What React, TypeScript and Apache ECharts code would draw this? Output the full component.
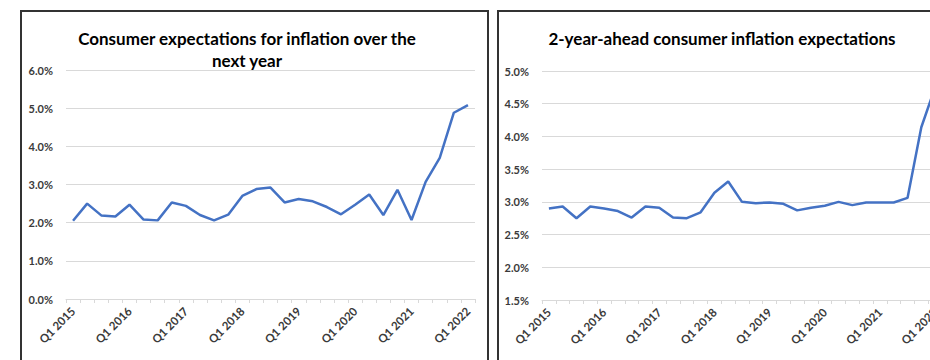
import React, { useEffect, useRef } from "react";
import * as echarts from "echarts";

const years = [2015, 2016, 2017, 2018, 2019, 2020, 2021];
const categories: string[] = [];
years.forEach((y) => ["Q1", "Q2", "Q3", "Q4"].forEach((q) => categories.push(`${q} ${y}`)));
categories.push("Q1 2022");

const oneYearAhead = [
  2.05, 2.5, 2.19, 2.16, 2.47, 2.08, 2.06, 2.53, 2.44, 2.2, 2.06, 2.21, 2.7, 2.88, 2.92,
  2.53, 2.62, 2.56, 2.41, 2.22, 2.47, 2.74, 2.2, 2.86, 2.07, 3.07, 3.7, 4.88, 5.08,
];

const twoYearAhead = [
  2.9, 2.93, 2.75, 2.93, 2.9, 2.86, 2.76, 2.93, 2.91, 2.76, 2.75, 2.84, 3.14, 3.31, 3.0,
  2.98, 2.99, 2.97, 2.87, 2.91, 2.94, 3.0, 2.95, 2.99, 2.99, 2.99, 3.06, 4.14, 4.75,
];

const leftTitle = "Consumer expectations for inflation over the\nnext year";
const rightTitle = "2-year-ahead consumer inflation expectations";

const FONT = "Lato";
const LABEL_COLOR = "#3a3a3a";
const LINE_COLOR = "#4472C4";
const GRID_COLOR = "#d9d9d9";

function xAxisFor(gridIndex: number) {
  return {
    type: "category" as const,
    gridIndex,
    data: categories,
    boundaryGap: true,
    axisLine: { show: true, lineStyle: { color: GRID_COLOR, width: 1 } },
    axisTick: { show: true, interval: 0, length: 4, lineStyle: { color: GRID_COLOR } },
    axisLabel: {
      interval: 3,
      rotate: 45,
      margin: 10,
      fontFamily: FONT,
      fontWeight: "bold" as const,
      fontSize: 11.5,
      color: LABEL_COLOR,
    },
    splitLine: { show: false },
  };
}

function yAxisFor(gridIndex: number, min: number, max: number, interval: number) {
  return {
    type: "value" as const,
    gridIndex,
    min,
    max,
    interval,
    axisLine: { show: false },
    axisTick: { show: false },
    axisLabel: {
      margin: 13,
      fontFamily: FONT,
      fontWeight: "bold" as const,
      fontSize: 11,
      color: LABEL_COLOR,
      formatter: (v: number) => v.toFixed(1) + "%",
    },
    splitLine: { show: true, lineStyle: { color: GRID_COLOR, width: 1 } },
  };
}

export default function App() {
  const ref = useRef<HTMLDivElement>(null);

  useEffect(() => {
    if (!ref.current) return;
    const chart = echarts.init(ref.current, undefined, { renderer: "svg" });
    chart.setOption({
      animation: false,
      backgroundColor: "#ffffff",
      title: [
        {
          text: leftTitle,
          left: 247,
          top: 27,
          padding: 0,
          textAlign: "center",
          textStyle: {
            fontFamily: FONT,
            fontWeight: "bold",
            fontSize: 17,
            color: "#000000",
            lineHeight: 22,
            align: "center",
          },
        },
        {
          text: rightTitle,
          left: 722,
          top: 27,
          padding: 0,
          textAlign: "center",
          textStyle: {
            fontFamily: FONT,
            fontWeight: "bold",
            fontSize: 17,
            color: "#000000",
            lineHeight: 22,
          },
        },
      ],
      grid: [
        { left: 66, top: 70, width: 409, height: 229, containLabel: false },
        { left: 542, top: 71, width: 400, height: 229, containLabel: false },
      ],
      xAxis: [xAxisFor(0), xAxisFor(1)],
      yAxis: [yAxisFor(0, 0, 6, 1), yAxisFor(1, 1.5, 5, 0.5)],
      series: [
        {
          type: "line",
          xAxisIndex: 0,
          yAxisIndex: 0,
          data: oneYearAhead,
          showSymbol: false,
          symbol: "none",
          lineStyle: { color: LINE_COLOR, width: 2.5 },
        },
        {
          type: "line",
          xAxisIndex: 1,
          yAxisIndex: 1,
          data: twoYearAhead,
          showSymbol: false,
          symbol: "none",
          lineStyle: { color: LINE_COLOR, width: 2.5 },
        },
      ],
      graphic: [
        {
          type: "rect",
          shape: { x: 21, y: 11, width: 467, height: 420 },
          style: { fill: "none", stroke: "#333333", lineWidth: 2 },
          silent: true,
        },
        {
          type: "rect",
          shape: { x: 498, y: 11, width: 600, height: 420 },
          style: { fill: "none", stroke: "#333333", lineWidth: 2 },
          silent: true,
        },
      ],
    });
    return () => chart.dispose();
  }, []);

  return (
    <div
      style={{
        position: "fixed",
        left: 0,
        top: 0,
        width: 930,
        height: 360,
        overflow: "hidden",
        background: "#fff",
      }}
    >
      <div ref={ref} style={{ width: 1000, height: 420 }} />
    </div>
  );
}
